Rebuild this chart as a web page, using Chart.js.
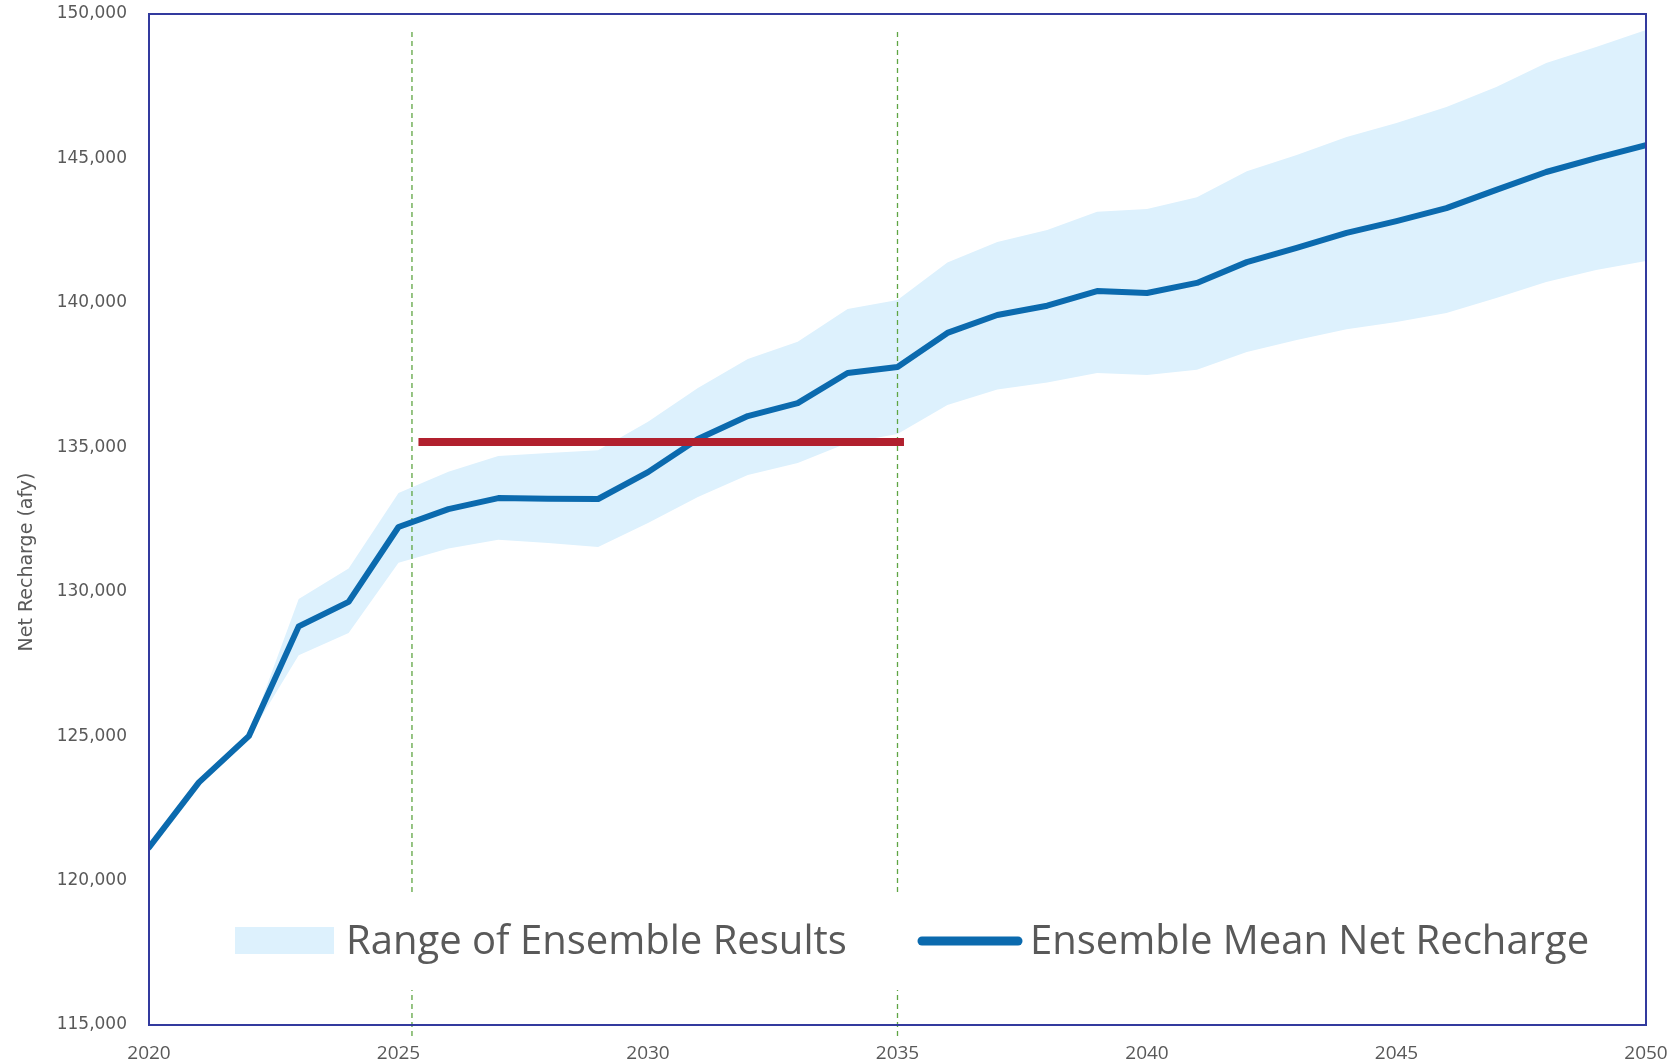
<!DOCTYPE html>
<html>
<head>
<meta charset="utf-8">
<title>Net Recharge</title>
<script src="https://cdn.jsdelivr.net/npm/chart.js@4.4.1/dist/chart.umd.min.js"></script>
<style>
  html, body { margin: 0; padding: 0; background: #ffffff; }
  canvas { display: block; }
</style>
</head>
<body>
<canvas id="rechargeChart" width="1675" height="1063"></canvas>
<script>
const years = [
  2020, 2021, 2022, 2023, 2024, 2025, 2026, 2027, 2028, 2029, 2030,
  2031, 2032, 2033, 2034, 2035, 2036, 2037, 2038, 2039, 2040,
  2041, 2042, 2043, 2044, 2045, 2046, 2047, 2048, 2049, 2050,
];
const meanRecharge = [
  121150, 123400, 125000, 128800, 129650, 132240, 132860, 133240, 133220, 133210, 134140,
  135290, 136080, 136530, 137570, 137780, 138960, 139580, 139900, 140410, 140340,
  140690, 141410, 141900, 142420, 142830, 143280, 143910, 144530, 145010, 145460,
];
// ensemble range starts in 2022
const bandYears = years.slice(2);
const rangeUpper = [
  125050, 129750, 130800, 133420, 134150, 134700, 134800, 134900, 135880,
  137050, 138060, 138650, 139790, 140100, 141400, 142110, 142520, 143150, 143250,
  143660, 144560, 145120, 145740, 146230, 146780, 147470, 148300, 148860, 149450,
];
const rangeLower = [
  124950, 127800, 128570, 131000, 131500, 131800, 131690, 131550, 132380,
  133280, 134040, 134460, 135150, 135460, 136460, 137000, 137240, 137570, 137500,
  137680, 138300, 138710, 139090, 139340, 139650, 140170, 140720, 141140, 141450,
];
const targetYears = [2025.4, 2035.13];
const targetValue = 135180;
const markerYears = [2025.27, 2035];
const markerSpan = [149380, 114580];
const yTicks = [115000, 120000, 125000, 130000, 135000, 140000, 145000, 150000];
const xTicks = [2020, 2025, 2030, 2035, 2040, 2045, 2050];
const legendLabels = ["Range of Ensemble Results", "Ensemble Mean Net Recharge"];
const yTitle = "Net Recharge (afy)";

const textGray = "#595959";
const bandColor = "#ddf1fd";
const meanColor = "#0b6aae";
const markerColor = "#5fa543";

const toPoints = (xs, ys) => xs.map((x, i) => ({ x: x, y: ys[i] }));

const frameAndLegend = {
  id: "frameAndLegend",
  afterDatasetsDraw(chart) {
    const ctx = chart.ctx;
    ctx.save();
    // white legend box sitting over the dashed markers
    ctx.fillStyle = "#ffffff";
    ctx.fillRect(200, 892, 1430, 98);

    ctx.fillStyle = bandColor;
    ctx.fillRect(235, 927, 99, 27);

    ctx.strokeStyle = meanColor;
    ctx.lineWidth = 9;
    ctx.lineCap = "round";
    ctx.beginPath();
    ctx.moveTo(922, 941);
    ctx.lineTo(1018, 941);
    ctx.stroke();

    ctx.fillStyle = textGray;
    ctx.font = '40px "Open Sans"';
    ctx.textBaseline = "alphabetic";
    ctx.textAlign = "left";
    ctx.fillText(legendLabels[0], 346, 954);
    ctx.fillText(legendLabels[1], 1030, 954);
    ctx.restore();
  },
  afterDraw(chart) {
    const ctx = chart.ctx;
    const a = chart.chartArea;
    ctx.save();
    ctx.strokeStyle = "#323a9e";
    ctx.lineWidth = 2;
    ctx.strokeRect(a.left, a.top, a.right - a.left, a.bottom - a.top);

    ctx.translate(27, 562);
    ctx.rotate(-Math.PI / 2);
    ctx.fillStyle = textGray;
    ctx.font = '19px "DejaVu Sans"';
    ctx.textAlign = "center";
    ctx.textBaseline = "middle";
    ctx.fillText(yTitle, 0, 0);
    ctx.restore();
  },
};

new Chart(document.getElementById("rechargeChart"), {
  type: "line",
  data: {
    datasets: [
      {
        label: "Target",
        data: toPoints(targetYears, [targetValue, targetValue]),
        borderColor: "#b1202e",
        borderWidth: 8,
        pointRadius: 0,
        order: 0,
      },
      {
        label: legendLabels[1],
        data: toPoints(years, meanRecharge),
        borderColor: meanColor,
        borderWidth: 6,
        borderJoinStyle: "round",
        borderCapStyle: "round",
        pointRadius: 0,
        order: 1,
      },
      {
        label: "Marker 1",
        data: toPoints([markerYears[0], markerYears[0]], markerSpan),
        borderColor: markerColor,
        borderWidth: 1.3,
        borderDash: [5, 4],
        pointRadius: 0,
        clip: false,
        order: 2,
      },
      {
        label: "Marker 2",
        data: toPoints([markerYears[1], markerYears[1]], markerSpan),
        borderColor: markerColor,
        borderWidth: 1.3,
        borderDash: [5, 4],
        pointRadius: 0,
        clip: false,
        order: 2,
      },
      {
        label: legendLabels[0],
        data: toPoints(bandYears, rangeUpper),
        borderWidth: 0,
        borderColor: bandColor,
        backgroundColor: bandColor,
        pointRadius: 0,
        fill: "+1",
        order: 3,
      },
      {
        label: "Range lower",
        data: toPoints(bandYears, rangeLower),
        borderWidth: 0,
        borderColor: bandColor,
        pointRadius: 0,
        fill: false,
        order: 4,
      },
    ],
  },
  options: {
    responsive: false,
    animation: false,
    devicePixelRatio: 1,
    layout: { padding: { top: 14, right: 29, left: 0, bottom: 0 } },
    plugins: {
      legend: { display: false },
      tooltip: { enabled: false },
    },
    scales: {
      x: {
        type: "linear",
        min: 2020,
        max: 2050,
        grid: { display: false, drawTicks: false },
        border: { display: false },
        afterBuildTicks: (scale) => {
          scale.ticks = xTicks.map((v) => ({ value: v }));
        },
        afterFit: (scale) => {
          scale.height = 38;
          scale.paddingLeft = 0;
          scale.paddingRight = 0;
        },
        ticks: {
          padding: 17,
          color: textGray,
          font: { family: "Open Sans", size: 19 },
          maxRotation: 0,
          callback: (v) => String(v),
        },
      },
      y: {
        min: 115000,
        max: 150000,
        grid: { display: false, drawTicks: false },
        border: { display: false },
        afterBuildTicks: (scale) => {
          scale.ticks = yTicks.map((v) => ({ value: v }));
        },
        afterFit: (scale) => {
          scale.width = 149;
          scale.paddingTop = 0;
          scale.paddingBottom = 0;
        },
        ticks: {
          padding: 22,
          color: textGray,
          font: { family: "DejaVu Sans", size: 17 },
          callback: (v) => v.toLocaleString("en-US"),
        },
      },
    },
  },
  plugins: [frameAndLegend],
});
</script>
</body>
</html>
